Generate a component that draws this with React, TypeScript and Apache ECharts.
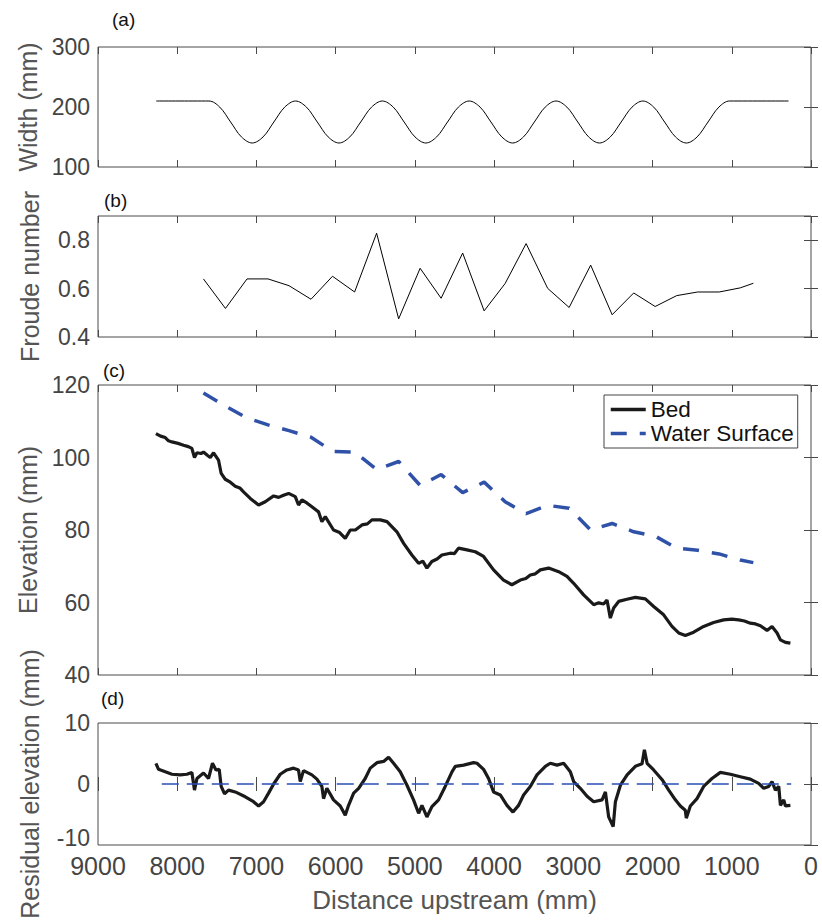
import React, { useEffect, useRef } from "react";
import * as echarts from "echarts";

// ---------- data ----------
const xTicks = { min: 0, max: 9000, interval: 1000 };

// (a) channel width
const widthX = [8265, 7600, 7463, 7326, 7190, 7053, 6916, 6780, 6643, 6506, 6369, 6232, 6095, 5958, 5821, 5684, 5547, 5410, 5273, 5136, 4999, 4862, 4725, 4588, 4451, 4314, 4177, 4040, 3903, 3766, 3629, 3492, 3355, 3218, 3081, 2944, 2807, 2670, 2533, 2396, 2259, 2122, 1985, 1848, 1711, 1574, 1437, 1300, 1163, 1026, 284];
const widthY = [210, 210, 199.8, 175, 150.2, 140, 150.2, 175, 199.8, 210, 199.8, 175, 150.2, 140, 150.2, 175, 199.8, 210, 199.8, 175, 150.2, 140, 150.2, 175, 199.8, 210, 199.8, 175, 150.2, 140, 150.2, 175, 199.8, 210, 199.8, 175, 150.2, 140, 150.2, 175, 199.8, 210, 199.8, 175, 150.2, 140, 150.2, 175, 199.8, 210, 210];

// (b) Froude number at measuring stations
const stationX = [7669, 7391, 7119, 6854, 6589, 6311, 6040, 5761, 5483, 5205, 4934, 4669, 4397, 4126, 3861, 3596, 3324, 3053, 2781, 2510, 2238, 1967, 1695, 1430, 1159, 893, 728];
const froude = [0.640, 0.518, 0.640, 0.640, 0.612, 0.556, 0.651, 0.586, 0.829, 0.475, 0.684, 0.560, 0.747, 0.508, 0.621, 0.786, 0.601, 0.522, 0.697, 0.492, 0.582, 0.526, 0.571, 0.586, 0.586, 0.603, 0.622];

// (c) water surface at stations
const waterSurface = [117.8, 114.2, 110.9, 109.0, 107.4, 105.6, 101.7, 101.5, 96.7, 98.9, 92.3, 95.3, 90.3, 93.2, 87.8, 84.5, 86.8, 86.0, 80.0, 81.8, 79.5, 78.3, 75.0, 74.4, 73.4, 71.7, 71.0];

// (c) bed profile
const bedX = [8269, 8210, 8151, 8110, 8067, 7990, 7920, 7860, 7815, 7782, 7751, 7700, 7668, 7620, 7583, 7541, 7479, 7445, 7394, 7330, 7268, 7210, 7163, 7078, 6973, 6889, 6783, 6720, 6658, 6594, 6510, 6469, 6426, 6360, 6300, 6216, 6174, 6131, 6027, 5950, 5879, 5816, 5752, 5668, 5600, 5542, 5437, 5352, 5227, 5142, 5038, 4953, 4900, 4848, 4786, 4720, 4659, 4553, 4500, 4449, 4343, 4238, 4133, 4007, 3881, 3776, 3669, 3600, 3543, 3480, 3416, 3312, 3185, 3080, 2996, 2870, 2743, 2680, 2618, 2575, 2533, 2491, 2428, 2323, 2217, 2091, 1986, 1860, 1755, 1670, 1586, 1481, 1355, 1229, 1103, 1000, 913, 840, 766, 700, 639, 555, 492, 428, 386, 323, 260];
const bedY = [106.6, 105.9, 105.5, 104.6, 104.3, 103.9, 103.4, 103.0, 102.5, 100.0, 101.3, 101.1, 101.5, 100.6, 100.0, 101.3, 99.3, 95.6, 94.0, 93.2, 92.1, 91.6, 90.5, 88.7, 86.9, 87.8, 89.4, 89.0, 89.6, 90.1, 89.2, 86.9, 88.3, 87.4, 86.4, 85.0, 82.3, 83.7, 80.0, 79.3, 77.7, 80.0, 80.0, 81.4, 81.7, 82.8, 82.8, 82.3, 79.5, 76.3, 73.1, 70.8, 71.4, 69.5, 71.3, 72.0, 73.1, 73.6, 73.5, 75.0, 74.5, 74.0, 72.7, 69.0, 66.2, 64.9, 66.2, 66.6, 67.6, 67.9, 69.0, 69.5, 68.5, 67.2, 65.3, 62.1, 59.4, 59.9, 59.6, 60.7, 55.7, 58.5, 60.3, 60.9, 61.4, 61.0, 58.9, 56.6, 53.4, 51.6, 50.9, 51.8, 53.4, 54.5, 55.2, 55.4, 55.2, 54.9, 54.3, 54.1, 53.6, 52.3, 53.4, 51.6, 49.7, 49.0, 48.8];

// (d) residual elevation
const resX = [8269, 8236, 8151, 8067, 7962, 7878, 7815, 7782, 7751, 7668, 7605, 7555, 7511, 7470, 7445, 7403, 7352, 7268, 7141, 7037, 6973, 6910, 6847, 6783, 6700, 6616, 6531, 6469, 6447, 6406, 6300, 6237, 6174, 6153, 6111, 6027, 5942, 5879, 5837, 5773, 5710, 5627, 5563, 5479, 5395, 5332, 5269, 5185, 5100, 5017, 4953, 4911, 4848, 4785, 4701, 4617, 4532, 4490, 4385, 4259, 4216, 4133, 4070, 4007, 3922, 3838, 3762, 3691, 3628, 3543, 3459, 3353, 3291, 3206, 3122, 3038, 2996, 2912, 2827, 2743, 2637, 2595, 2554, 2497, 2469, 2406, 2321, 2217, 2133, 2103, 2069, 1986, 1879, 1796, 1712, 1649, 1587, 1574, 1523, 1439, 1355, 1250, 1144, 1018, 892, 766, 661, 597, 534, 492, 449, 407, 386, 344, 323, 260];
const resY = [3.4, 2.4, 2.0, 1.6, 1.5, 1.6, 1.9, -1.0, 0.9, 1.8, 0.9, 3.4, 2.3, 2.4, -0.4, -1.6, -1.0, -1.3, -2.1, -2.9, -3.6, -2.9, -1.5, 0.0, 1.6, 2.3, 2.6, 2.3, 0.4, 2.2, 1.5, 0.8, -0.4, -2.4, -0.7, -2.6, -3.6, -5.1, -3.5, -1.5, -0.7, 0.9, 2.6, 3.5, 3.7, 4.4, 3.4, 2.0, -0.2, -2.6, -4.8, -3.5, -5.4, -3.7, -2.6, -0.4, 2.0, 2.9, 3.1, 3.5, 3.4, 2.4, 0.9, -1.3, -1.8, -3.5, -4.6, -3.5, -1.8, -0.4, 1.5, 2.9, 3.4, 3.1, 3.4, 2.0, 0.4, -0.7, -2.0, -2.9, -2.6, -1.3, -5.4, -7.0, -2.9, -0.2, 1.5, 2.9, 3.3, 5.6, 3.4, 2.3, 0.7, -1.0, -2.6, -3.6, -4.3, -5.6, -3.6, -2.4, -0.4, 0.9, 1.9, 1.6, 1.2, 0.8, 0.1, -0.7, -0.4, 0.4, -1.0, -0.4, -3.5, -2.6, -3.6, -3.5];
const zeroLineX = [8195, 250];
const zeroLineY = [0, 0];

// axis ranges and names
const yRanges = [
  { min: 100, max: 300, interval: 100 },
  { min: 0.4, max: 0.9, interval: 0.2 },
  { min: 40, max: 120, interval: 20 },
  { min: -10, max: 10, interval: 10 },
];
const yNames = ["Width (mm)", "Froude number", "Elevation (mm)", "Residual elevation (mm)"];
const panelLabels = ["(a)", "(b)", "(c)", "(d)"];
const xName = "Distance upstream (mm)";
const legendNames = ["Bed", "Water Surface"];

const zip = (xs: number[], ys: number[]) => xs.map((x, i) => [x, ys[i]]);

const FONT = "'Liberation Sans', Arial, Helvetica, sans-serif";
const FRAME = "#4a4a4a";
const TICK_TXT = "#444444";
const NAME_TXT = "#555555";

export default function App() {
  const ref = useRef<HTMLDivElement>(null);
  useEffect(() => {
    if (!ref.current) return;
    const chart = echarts.init(ref.current, undefined, { renderer: "svg" });
    const gridsPos = [
      { top: 47, height: 120 },
      { top: 216, height: 121 },
      { top: 385, height: 290 },
      { top: 723, height: 122 },
    ];
    const grids = gridsPos.map((g) => ({
      left: 98,
      width: 713,
      top: g.top,
      height: g.height,
      show: true,
      borderColor: FRAME,
      borderWidth: 1,
      backgroundColor: "transparent",
      containLabel: false,
    }));
    const tick = { show: true, inside: true, length: 7, lineStyle: { color: FRAME, width: 1 } };
    const xAxes: any[] = [];
    const yAxes: any[] = [];
    for (let i = 0; i < 4; i++) {
      const last = i === 3;
      xAxes.push({
        type: "value",
        gridIndex: i,
        position: "bottom",
        inverse: true,
        ...xTicks,
        axisLine: { show: false },
        axisTick: tick,
        splitLine: { show: false },
        axisLabel: {
          show: last,
          margin: 11,
          fontSize: 25,
          lineHeight: 20,
          color: TICK_TXT,
          fontFamily: FONT,
          formatter: (v: number) => String(Math.round(v)),
        },
        name: last ? xName : "",
        nameLocation: "middle",
        nameGap: 42,
        nameTextStyle: { fontSize: 26, color: NAME_TXT, fontFamily: FONT },
      });
      const yr = yRanges[i];
      yAxes.push({
        type: "value",
        gridIndex: i,
        position: "left",
        ...yr,
        axisLine: { show: false },
        axisTick: tick,
        splitLine: { show: false },
        axisLabel: {
          margin: 8,
          fontSize: 23,
          lineHeight: 16,
          color: TICK_TXT,
          fontFamily: FONT,
          formatter: (v: number) => {
            const steps = (v - yr.min) / yr.interval;
            if (Math.abs(steps - Math.round(steps)) > 1e-6) return "";
            const s = i === 1 ? v.toFixed(1) : String(Math.round(v));
            if (last && Math.abs(v - yr.min) < 1e-9) return "{lift|" + s + "}";
            return s;
          },
          rich: {
            lift: { fontSize: 23, color: TICK_TXT, fontFamily: FONT, padding: [0, 0, 14, 0] },
          },
        },
        name: yNames[i],
        nameLocation: "middle",
        nameGap: 56,
        nameTextStyle: { fontSize: 25, color: NAME_TXT, fontFamily: FONT },
      });
    }
    for (let i = 0; i < 4; i++) {
      xAxes.push({
        type: "value",
        gridIndex: i,
        position: "top",
        inverse: true,
        ...xTicks,
        axisLine: { show: false },
        axisTick: tick,
        axisLabel: { show: false },
        splitLine: { show: false },
      });
      yAxes.push({
        type: "value",
        gridIndex: i,
        position: "right",
        ...yRanges[i],
        axisLine: { show: false },
        axisTick: tick,
        axisLabel: { show: false },
        splitLine: { show: false },
      });
    }

    const option: any = {
      animation: false,
      backgroundColor: "#ffffff",
      textStyle: { fontFamily: FONT },
      title: panelLabels.map((t, i) => ({
        text: t,
        left: [112, 104, 103, 101][i],
        top: [10, 191, 361, 689][i],
        padding: 0,
        textStyle: { fontSize: 19, fontWeight: "normal", color: "#111111", fontFamily: FONT },
      })),
      legend: {
        data: legendNames,
        orient: "vertical",
        left: 604,
        top: 395,
        padding: [3, 4, 3, 5],
        itemGap: 1,
        itemWidth: 35,
        itemHeight: 14,
        backgroundColor: "#ffffff",
        borderColor: "#444444",
        borderWidth: 1,
        borderRadius: 0,
        selectedMode: false,
        itemStyle: { opacity: 0 },
        lineStyle: { width: 3.5 },
        textStyle: { fontSize: 22.5, color: "#111111", fontFamily: FONT, lineHeight: 22 },
      },
      grid: grids,
      xAxis: xAxes,
      yAxis: yAxes,
      series: [
        {
          type: "line",
          name: "width",
          xAxisIndex: 0,
          yAxisIndex: 0,
          data: zip(widthX, widthY),
          symbol: "none",
          smooth: 0.35,
          lineStyle: { color: "#000000", width: 1 },
        },
        {
          type: "line",
          name: "froude",
          xAxisIndex: 1,
          yAxisIndex: 1,
          data: zip(stationX, froude),
          symbol: "none",
          lineStyle: { color: "#000000", width: 1 },
        },
        {
          type: "line",
          name: "Bed",
          xAxisIndex: 2,
          yAxisIndex: 2,
          data: zip(bedX, bedY),
          symbol: "none",
          color: "#1a1a1a",
          lineStyle: { color: "#1a1a1a", width: 3.2 },
        },
        {
          type: "line",
          name: "Water Surface",
          xAxisIndex: 2,
          yAxisIndex: 2,
          data: zip(stationX, waterSurface),
          symbol: "none",
          color: "#2f51a8",
          lineStyle: { color: "#2f51a8", width: 3.5, type: [16, 13] },
          z: 3,
        },
        {
          type: "line",
          name: "residual",
          xAxisIndex: 3,
          yAxisIndex: 3,
          data: zip(resX, resY),
          symbol: "none",
          lineStyle: { color: "#1a1a1a", width: 3.2 },
        },
        {
          type: "line",
          name: "zero",
          xAxisIndex: 3,
          yAxisIndex: 3,
          data: zip(zeroLineX, zeroLineY),
          symbol: "none",
          lineStyle: { color: "#2a4db5", width: 1.5, type: [17, 8] },
          z: 3,
        },
      ],
    };
    chart.setOption(option);
    return () => chart.dispose();
  }, []);
  return <div ref={ref} style={{ position: "absolute", left: 0, top: 0, width: 822, height: 922 }} />;
}
